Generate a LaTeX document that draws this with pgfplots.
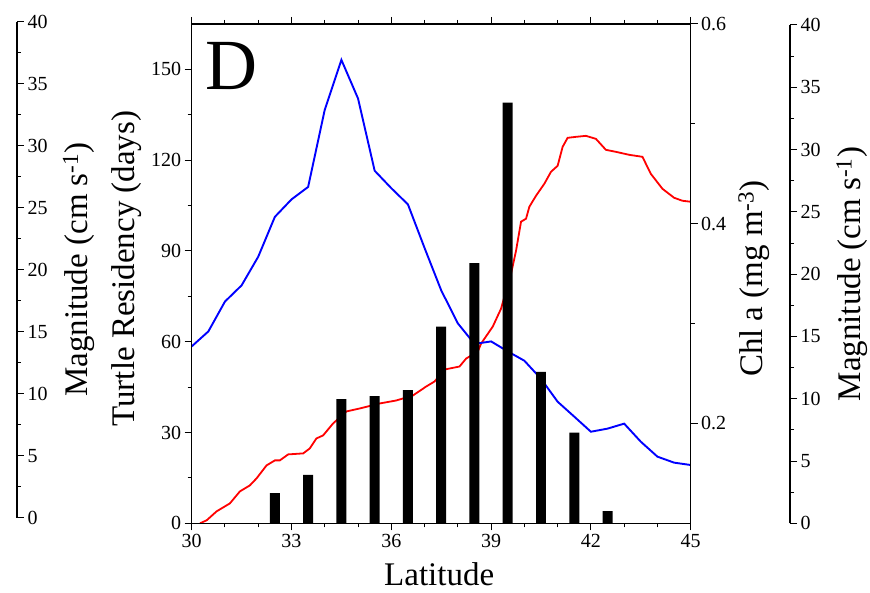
\documentclass[border=0pt]{standalone}
\usepackage{fontspec}
\setmainfont{Liberation Serif}
\usepackage{pgfplots}
\pgfplotsset{compat=1.18}

\pgfplotsset{
  panel/.style={
    scale only axis, width=499pt, height=499.3pt,
    xmin=30, xmax=45,
    tick align=outside, major tick length=7pt, minor tick length=4pt,
    axis line style={line width=1.2pt},
    every tick/.style={black, line width=1pt},
    tick label style={font=\rmfamily\fontsize{20}{24}\selectfont},
    label style={font=\rmfamily\fontsize{33}{38}\selectfont},
    /pgf/number format/assume math mode=true,
  },
  magaxis/.style={
    panel, width=10pt, xmin=0, xmax=1, ymin=0, ymax=40,
    axis x line=none, axis y line*=right,
    ytick={0,5,...,40}, minor y tick num=1,
    ylabel={Magnitude (cm s\textsuperscript{-1})},
  },
}

\begin{document}
\begin{tikzpicture}
\path[use as bounding box] (-191.7pt,-68.7pt) rectangle (678.3pt,523.3pt);

% Chl a (right axis)
\begin{axis}[panel, ymin=0.1, ymax=0.6,
    axis x line=none, axis y line*=right,
    ytick={0.2,0.4,0.6}, minor ytick={0.3,0.5},
    yticklabel style={/pgf/number format/.cd, fixed, precision=1},
    ylabel={Chl a (mg m\textsuperscript{-3})},
    ylabel style={at={(axis description cs:1.127,0.49)}, anchor=center}]
  \addplot[red, line width=1.8pt] coordinates {
    (30.25,0.100)(30.45,0.103)(30.75,0.112)(31.15,0.120)(31.45,0.132)
    (31.75,0.138)(31.95,0.145)(32.25,0.158)(32.50,0.163)(32.65,0.163)
    (32.90,0.169)(33.35,0.170)(33.55,0.175)(33.75,0.185)(33.95,0.188)
    (34.25,0.200)(34.65,0.212)(35.05,0.215)(35.65,0.220)(36.15,0.223)
    (36.65,0.228)(37.05,0.237)(37.30,0.242)(37.60,0.254)(38.05,0.257)
    (38.25,0.265)(38.60,0.272)(38.70,0.280)(39.05,0.297)(39.30,0.315)
    (39.45,0.333)(39.60,0.350)(39.75,0.373)(39.90,0.402)(40.05,0.405)
    (40.15,0.417)(40.35,0.428)(40.60,0.440)(40.80,0.452)(41.00,0.458)
    (41.15,0.477)(41.30,0.486)(41.55,0.487)(41.85,0.488)(42.15,0.485)
    (42.45,0.474)(42.75,0.472)(43.15,0.469)(43.55,0.467)(43.80,0.450)
    (44.15,0.435)(44.50,0.426)(44.75,0.423)(45.00,0.422)
  };
\end{axis}

% current magnitude
\begin{axis}[panel, ymin=0, ymax=40.08, hide axis]
  \addplot[blue, line width=1.9pt] coordinates {
    (30.0,14.2)(30.5,15.4)(31.0,17.8)(31.5,19.1)(32.0,21.4)(32.5,24.6)
    (33.0,26.0)(33.5,27.0)(34.0,33.2)(34.5,37.2)(35.0,34.1)(35.5,28.3)
    (36.0,26.9)(36.5,25.6)(37.0,22.1)(37.5,18.7)(38.0,16.05)(38.5,14.4)
    (39.0,14.6)(39.5,13.8)(40.0,13.05)(40.5,11.6)(41.0,9.76)(41.5,8.56)
    (42.0,7.35)(42.5,7.6)(43.0,8.0)(43.5,6.55)(44.0,5.35)(44.5,4.87)
    (45.0,4.68)
  };
\end{axis}

% turtle residency
\begin{axis}[panel, ymin=0, ymax=165,
    xtick={30,33,...,45}, minor x tick num=2,
    ytick={0,30,...,150}, minor y tick num=1, ytick pos=left,
    xlabel={Latitude}, ylabel={Turtle Residency (days)},
    xlabel style={at={(axis description cs:0.496,-0.124)}, anchor=base, inner sep=0pt},
    ylabel style={at={(axis description cs:-0.131,0.51)}, anchor=center}]
  \addplot[ybar, bar width=0.3, fill=black, draw=none] coordinates {
    (32.5,10)(33.5,16)(34.5,41)(35.5,42)(36.5,44)(37.5,65)
    (38.5,86)(39.5,139)(40.5,50)(41.5,30)(42.5,4)
  };
  \node[font=\rmfamily\fontsize{72}{72}\selectfont] at (rel axis cs:0.08,0.915) {D};
\end{axis}

% magnitude axes, right and left
\begin{axis}[magaxis, height=498.3pt, at={(588.3pt,0pt)},
    ylabel style={at={(axis description cs:7.2,0.5)}, anchor=center}]
\end{axis}
\begin{axis}[magaxis, height=496pt, at={(-184.7pt,5.6pt)},
    ylabel style={at={(axis description cs:7.15,0.5)}, anchor=center}]
\end{axis}
\end{tikzpicture}
\end{document}
